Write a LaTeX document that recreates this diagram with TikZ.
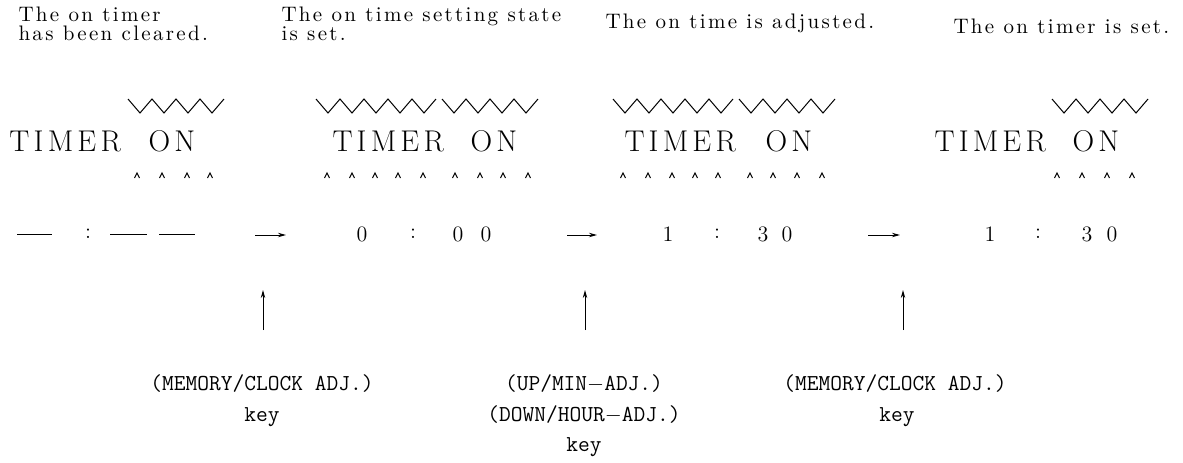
\documentclass[tikz,border=0pt]{standalone}
\usepackage{fontspec}
\usetikzlibrary{arrows.meta}
\newfontfamily\statefont[LetterSpace=11]{Latin Modern Roman}
\newfontfamily\lampfont[LetterSpace=14]{Latin Modern Roman}
\tikzset{
 state/.style={inner sep=0pt,align=left,font=\fontsize{10.5}{9.5}\statefont},
 lamp/.style={inner sep=0pt,anchor=west,font=\fontsize{15}{17}\lampfont},
 digit/.style={inner sep=0pt,font=\fontsize{11}{13}\selectfont},
 keytext/.style={inner sep=0pt,font=\fontsize{11.4}{13}\selectfont\ttfamily}}
\begin{document}
\begin{tikzpicture}[x=0.5pt,y=-0.5pt,line width=0.5pt,>={Stealth[length=4pt,width=2.2pt]}]
\useasboundingbox (0,0) rectangle (1183,462);
\node[state,anchor=north west] (s1) at (18,6) {The on timer\\has been cleared.};
\node[state,anchor=north west] (s2) at (281,6) {The on time setting state\\is set.};
\node[state,anchor=base west] (s3) at (605,28) {The on time is adjusted.};
\node[state,anchor=base west] (s4) at (953,33) {The on timer is set.};
\foreach \s/\n in {128/4,316/5,442/4,613/5,739/4,1052/4}
 \draw (\s,99) \foreach \i in {1,...,\n}{ -- ++(12,14) -- ++(12,-14)};
\node[lamp] (t1) at (9,141) {TIMER};
\node[lamp] (o1) at (148,141) {ON};
\node[lamp] (t2) at (332,141) {TIMER};
\node[lamp] (o2) at (470,141) {ON};
\node[lamp] (t3) at (624,141) {TIMER};
\node[lamp] (o3) at (765,141) {ON};
\node[lamp] (t4) at (934,141) {TIMER};
\node[lamp] (o4) at (1072,141) {ON};
\foreach \x in {137,162,187,210,327,352,375,398,423,455,480,503,528,
 623,648,672,695,718,750,773,797,822,1057,1082,1107,1132}
 \draw (\x-2.5,178) -- (\x,173) -- (\x+2.5,178);
\draw (17,234) -- (52,234) (110,234) -- (147,234) (159,234) -- (195,234);
\node[digit] (c1) at (88,234) {:};
\node[digit] (h2) at (362,234) {0};
\node[digit] (c2) at (413,234) {:};
\node[digit] (m2a) at (458,234) {0};
\node[digit] (m2b) at (486,234) {0};
\node[digit] (h3) at (668,234) {1};
\node[digit] (c3) at (717,234) {:};
\node[digit] (m3a) at (763,234) {3};
\node[digit] (m3b) at (787,234) {0};
\node[digit] (h4) at (990,234) {1};
\node[digit] (c4) at (1038,234) {:};
\node[digit] (m4a) at (1087,234) {3};
\node[digit] (m4b) at (1112,234) {0};
\coordinate (r1a) at (255,235); \coordinate (r1b) at (286,235);
\coordinate (r2a) at (567,235); \coordinate (r2b) at (597,235);
\coordinate (r3a) at (868,235); \coordinate (r3b) at (900,235);
\draw[->] (r1a) -- (r1b);
\draw[->] (r2a) -- (r2b);
\draw[->] (r3a) -- (r3b);
\node[keytext] (k1) at (262,384) {(MEMORY/CLOCK ADJ.)};
\node[keytext] (k1key) at (262,417) {key};
\node[keytext] (k2) at (584,384) {(UP/MIN$-$ADJ.)};
\node[keytext] (k2b) at (584,415) {(DOWN/HOUR$-$ADJ.)};
\node[keytext] (k2key) at (584,447) {key};
\node[keytext] (k3) at (895,384) {(MEMORY/CLOCK ADJ.)};
\node[keytext] (k3key) at (897,417) {key};
\coordinate (p1a) at (263,330); \coordinate (p1b) at (263,290);
\coordinate (p2a) at (585,330); \coordinate (p2b) at (585,290);
\coordinate (p3a) at (903,330); \coordinate (p3b) at (903,290);
\draw[->] (p1a) -- (p1b);
\draw[->] (p2a) -- (p2b);
\draw[->] (p3a) -- (p3b);
\end{tikzpicture}
\end{document}
